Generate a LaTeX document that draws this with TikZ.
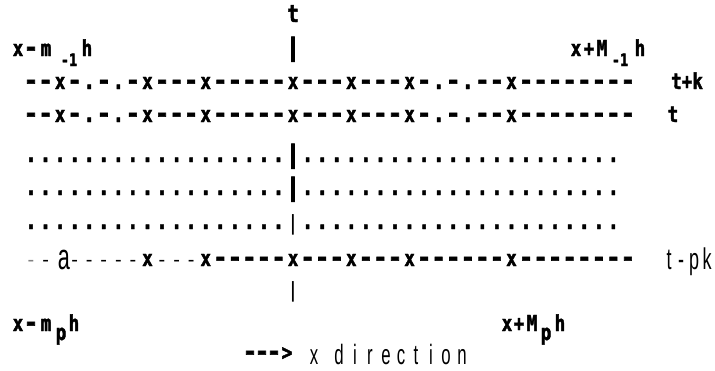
\documentclass[tikz,border=0pt]{standalone}
\usepackage{fontspec}
\usepackage{graphicx}
\newfontfamily\bfnt{DejaVu Sans Mono}[FakeStretch=0.8,FakeBold=2]
\newfontfamily\lfnt{Liberation Sans}[FakeStretch=0.6]
\newfontfamily\lfntw{Liberation Sans}
\newcommand\mych[1]{\if#1-\scalebox{1.37}[1.15]{-}\else\if#1.\scalebox{1.1}{.}\else#1\fi\fi}
\newcommand\bbar{\makebox[10pt][c]{\scalebox{1.5}[1.15]{|}}}
\begin{document}
\begin{tikzpicture}[x=1pt,y=-1pt,
  ch/.style={inner sep=0pt, anchor=base, font=\bfnt\bfseries\fontsize{22}{22}\selectfont},
  sub/.style={inner sep=0pt, anchor=base, font=\bfnt\bfseries\fontsize{17}{17}\selectfont},
  lch/.style={inner sep=0pt, anchor=base, font=\lfnt\fontsize{30}{30}\selectfont},
  ldash/.style={inner sep=0pt, anchor=base, font=\lfntw\fontsize{20}{20}\selectfont}]
\useasboundingbox (0,0) rectangle (715,370);
% top marker
\node[ch, font=\bfnt\bfseries\fontsize{24}{24}\selectfont] (tt) at (293,22) {t};
\node[ch] (tbar) at (293,56) {\bbar};
% top labels
\node[ch] (l1x) at (18,56) {x};
\node[ch] (l1d) at (31,56) {\mych{-}};
\node[ch] (l1m) at (46,56) {m};
\node[sub] (l1s) at (69,66) {-1};
\node[ch] (l1h) at (87,56) {h};
\node[ch] (r1x) at (576,56) {x};
\node[ch] (r1p) at (589,56) {+};
\node[ch] (r1m) at (602,56) {M};
\node[sub] (r1s) at (620,66) {-1};
\node[ch] (r1h) at (640,56) {h};
% rows t+k and t
\foreach \c [count=\i from 0] in {-,-,x,-,.,-,.,-,x,-,-,-,x,-,-,-,-,-,x,-,-,-,x,-,-,-,x,-,.,-,.,-,-,x,-,-,-,-,-,-,-,-}
  {\node[ch] (ra\i) at ({31+14.56*\i},89) {\mych{\c}};
   \node[ch] (rb\i) at ({31+14.56*\i},122) {\mych{\c}};}
\node[ch] (ltk) at (687,89) {t+k};
\node[ch] (lt) at (673,122) {t};
% dotted rows
\foreach \i in {0,...,40}{
  \ifnum\i=18\relax\else
  \node[ch] (da\i) at ({31+14.56*\i},162) {\mych{.}};
  \node[ch] (db\i) at ({31+14.56*\i},195) {\mych{.}};
  \node[ch] (dc\i) at ({31+14.56*\i},229) {\mych{.}};
  \fi}
\node[ch] (ba) at (293,163) {\bbar};
\node[ch] (bb) at (293,196) {\bbar};
\node[ldash, font=\lfntw\fontsize{22}{22}\selectfont] (bc) at (293,230) {|};
% row t-pk
\node[ldash, text=gray] (c0) at (31,266) {-};
\node[ldash] (c1) at (45.6,266) {-};
\node[lch, font=\lfnt\fontsize{36}{36}\selectfont] (c2) at (64,269) {a};
\foreach \i in {3,...,7,9,10,11}
  {\node[ldash] (c\i) at ({31+14.56*\i},266) {-};}
\node[ch] (c8) at ({31+14.56*8},266) {x};
\foreach \c [count=\i from 12] in {x,-,-,-,-,-,x,-,-,-,x,-,-,-,x,-,-,-,-,-,-,x,-,-,-,-,-,-,-,-}
  {\node[ch] (c\i) at ({31+14.56*\i},266) {\mych{\c}};}
\node[lch] (tp1) at (669,269) {t};
\node[lch] (tp2) at (681,269) {-};
\node[lch] (tp3) at (694,269) {p};
\node[lch] (tp4) at (707,269) {k};
% bottom marker
\node[ldash, font=\lfntw\fontsize{22}{22}\selectfont] (bbot) at (293,297) {|};
% bottom labels
\node[ch] (l2x) at (18,331) {x};
\node[ch] (l2d) at (31,331) {\mych{-}};
\node[ch] (l2m) at (46,331) {m};
\node[ch] (l2s) at (61,340) {p};
\node[ch] (l2h) at (74,331) {h};
\node[ch] (r2x) at (507,331) {x};
\node[ch] (r2p) at (519,331) {+};
\node[ch] (r2m) at (532,331) {M};
\node[ch] (r2s) at (546,340) {p};
\node[ch] (r2h) at (560,331) {h};
% direction
\node[ch] (a1) at (250,360) {\mych{-}};
\node[ch] (a2) at (262,360) {\mych{-}};
\node[ch] (a3) at (274,360) {\mych{-}};
\node[ch] (a4) at (287,360) {>};
\foreach \c/\p [count=\i] in {x/314,d/339,i/355,r/370,e/386,c/401,t/416,i/431,o/446,n/462}
  {\node[lch, font=\lfnt\fontsize{28}{28}\selectfont] (dir\i) at (\p,364) {\c};}
\end{tikzpicture}
\end{document}
